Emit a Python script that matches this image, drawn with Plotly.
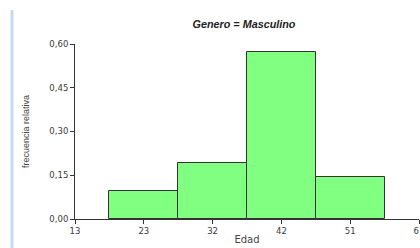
import plotly.graph_objects as go

# Data
bin_centers = [22.6, 32.2, 41.8, 51.4]
bin_width = 9.6
rel_freq = [2/21, 4/21, 12/21, 3/21]
x_tickvals = [13.0, 22.6, 32.2, 41.8, 51.4, 61.0]
x_ticktext = ["13", "23", "32", "42", "51", "61"]
y_tickvals = [0.0, 0.15, 0.30, 0.45, 0.60]
y_ticktext = ["0,00", "0,15", "0,30", "0,45", "0,60"]

W, H = 420, 248
L, R, T, B = 75, 1, 44, 29
pw = W - L - R
ph = H - T - B

def px_to_paper_x(px):
    return (px - L) / pw

def py_to_paper_y(py):
    return (H - B - py) / ph

fig = go.Figure()
fig.add_trace(go.Bar(
    x=bin_centers, y=rel_freq, width=[bin_width] * len(bin_centers),
    marker=dict(color="#80FF80", line=dict(color="#333333", width=1)),
    hoverinfo="skip",
))

fig.add_shape(type="line", xref="paper", yref="paper",
              x0=px_to_paper_x(12), x1=px_to_paper_x(12),
              y0=py_to_paper_y(10), y1=py_to_paper_y(250),
              line=dict(color="#C4DAF2", width=3), layer="above")

tick_font = dict(family="DejaVu Sans, sans-serif", size=8.5, color="#3a3a3a")

fig.update_layout(
    width=W, height=H,
    margin=dict(l=L, r=R, t=T, b=B, autoexpand=False),
    paper_bgcolor="white", plot_bgcolor="white",
    showlegend=False,
    title=dict(text="<b><i>Genero = Masculino</i></b>", x=px_to_paper_x(244), xref="paper",
               xanchor="center", y=1 - 24 / H, yanchor="middle",
               font=dict(family="Liberation Sans, Arial, sans-serif", size=10.8, color="#222222")),
    xaxis=dict(range=[13, 61], tickvals=x_tickvals, ticktext=x_ticktext,
               showline=True, linecolor="#333333", linewidth=1,
               ticks="outside", ticklen=4, tickcolor="#333333", ticklabeloverflow="allow",
               showgrid=False, zeroline=False, tickfont=tick_font, automargin=False,
               title=dict(text="Edad", standoff=0,
                          font=dict(family="DejaVu Sans, sans-serif", size=10, color="#444444"))),
    yaxis=dict(range=[0, 0.6], tickvals=y_tickvals, ticktext=y_ticktext,
               showline=True, linecolor="#333333", linewidth=1,
               ticks="outside", ticklen=4, tickcolor="#333333",
               showgrid=False, zeroline=False, tickfont=tick_font, automargin=False,
               title=dict(text="frecuencia relativa", standoff=18,
                          font=dict(family="Liberation Sans Narrow, Arial Narrow, Liberation Sans, sans-serif", size=9, color="#444444"))),
    bargap=0,
)

fig.write_html("out.html", config={"displayModeBar": False},
               post_script="document.body.style.margin='0';document.body.style.overflow='hidden';")
